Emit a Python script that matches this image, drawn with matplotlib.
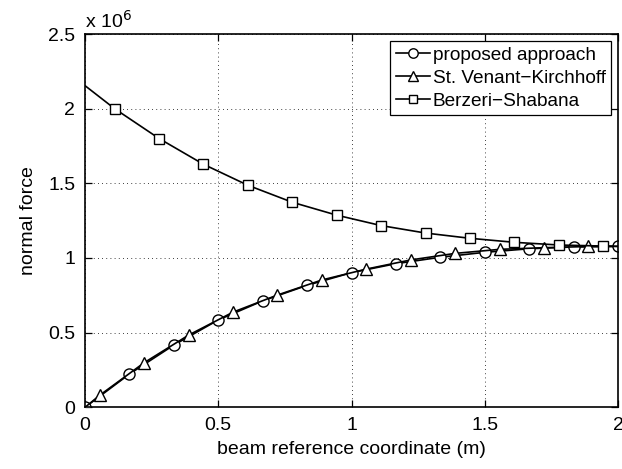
import matplotlib.pyplot as plt
import numpy as np

plt.rcParams['font.family'] = ['Liberation Sans', 'DejaVu Sans']

# normal force values in units of 1e6, read at marker positions
x_prop = [0, 1/6, 2/6, 3/6, 4/6, 5/6, 1, 7/6, 8/6, 9/6, 10/6, 11/6, 2]
y_prop = [0, 0.223, 0.417, 0.585, 0.713, 0.817, 0.902, 0.962, 1.005, 1.038, 1.062, 1.074, 1.078]

x_svk = [0, 0.056, 0.222, 0.389, 0.556, 0.722, 0.889, 1.056, 1.222, 1.389, 1.556, 1.722, 1.889, 2]
y_svk = [0, 0.082, 0.299, 0.484, 0.638, 0.752, 0.853, 0.926, 0.987, 1.031, 1.058, 1.069, 1.077, 1.078]

x_bs = [0, 0.111, 0.278, 0.444, 0.611, 0.778, 0.944, 1.111, 1.278, 1.444, 1.611, 1.778, 1.944, 2]
y_bs = [2.154, 2.00, 1.80, 1.628, 1.487, 1.373, 1.287, 1.217, 1.167, 1.132, 1.105, 1.087, 1.080, 1.078]

fig = plt.figure(figsize=(6.22, 4.69), dpi=100)
ax = fig.add_axes([0.1367, 0.1315, 0.857, 0.796])

mk = dict(color='k', lw=1.2, markerfacecolor='white', markeredgecolor='k', markeredgewidth=1.0)
ax.plot(x_prop, y_prop, marker='o', markersize=8, label='proposed approach', **mk)
ax.plot(x_svk, y_svk, marker='^', markersize=8.5, markevery=list(range(1, 13)),
        label='St. Venant\u2212Kirchhoff', **mk)
ax.plot(x_bs, y_bs, marker='s', markersize=7, markevery=list(range(1, 13)),
        label='Berzeri\u2212Shabana', **mk)

ax.set_xlim(0, 2)
ax.set_ylim(0, 2.5)
ax.set_xticks([0, 0.5, 1, 1.5, 2])
ax.set_xticklabels(['0', '0.5', '1', '1.5', '2'])
ax.set_yticks([0, 0.5, 1, 1.5, 2, 2.5])
ax.set_yticklabels(['0', '0.5', '1', '1.5', '2', '2.5'])
ax.grid(True, linestyle=(0, (1, 4)), color='k', lw=0.6)
ax.tick_params(direction='in', top=True, right=True, labelsize=14, length=5, width=0.9, pad=7)
for s in ax.spines.values():
    s.set_linewidth(1.2)

ax.set_xlabel('beam reference coordinate (m)', fontsize=14, labelpad=5)
ax.set_ylabel('normal force', fontsize=14, labelpad=8)
ax.text(0, 1.006, 'x 10$^6$', transform=ax.transAxes, fontsize=14, ha='left', va='bottom')

leg = ax.legend(loc='upper right', fontsize=13.7, fancybox=False, framealpha=1,
                edgecolor='k', handlelength=1.8, handletextpad=0.15, borderaxespad=0.35,
                labelspacing=0.3, borderpad=0.3, markerscale=0.85)
leg.get_frame().set_linewidth(0.9)

fig.savefig('out.png', dpi=100)
